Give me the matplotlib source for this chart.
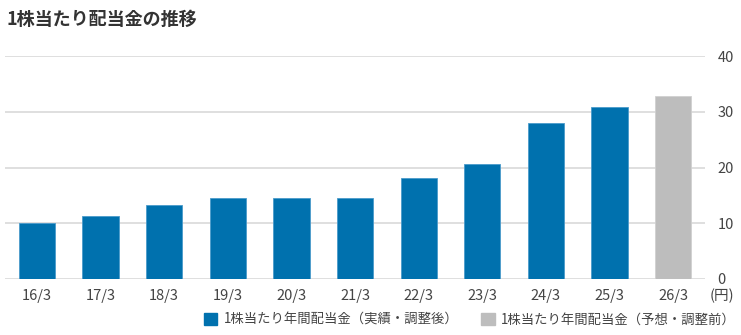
import matplotlib.pyplot as plt
from matplotlib.patches import Patch

plt.rcParams['font.family'] = ['Noto Sans CJK JP', 'DejaVu Sans']

# 決算期と1株当たり年間配当金（円）
periods = ['16/3', '17/3', '18/3', '19/3', '20/3', '21/3', '22/3', '23/3', '24/3', '25/3', '26/3']
dividends = [10.0, 11.3, 13.3, 14.6, 14.6, 14.6, 18.2, 20.6, 27.9, 30.9, 32.9]
is_forecast = [False] * 10 + [True]
y_ticks = [0, 10, 20, 30, 40]

blue = '#0071AE'
grey = '#BDBDBD'
text_col = '#444444'

fig = plt.figure(figsize=(7.41, 3.35), dpi=100)
ax = fig.add_axes([5 / 741, 1 - 279 / 335, 700 / 741, 223 / 335])

colors = [grey if f else blue for f in is_forecast]
edges = ['#D0D0D0' if f else '#4A9BCB' for f in is_forecast]
ax.bar(range(len(periods)), dividends, width=0.57, color=colors,
       edgecolor=edges, linewidth=0.6, zorder=3)

ax.set_xlim(-0.5, len(periods) - 0.5)
ax.set_ylim(0, 40)
ax.set_yticks(y_ticks)
ax.yaxis.tick_right()
ax.grid(axis='y', color='#D9D9D9', linewidth=1.2, zorder=0)
ax.set_xticks(range(len(periods)))
ax.set_xticklabels(periods)
ax.tick_params(axis='both', length=0, labelsize=10.5, colors=text_col)
ax.tick_params(axis='x', pad=7)
ax.tick_params(axis='y', pad=9)
for s in ax.spines.values():
    s.set_visible(False)

fig.text(710 / 741, 1 - 296 / 335, '(円)', fontsize=10.5, color=text_col,
         va='center', ha='left')
fig.text(6 / 741, 1 - 19 / 335, '1株当たり配当金の推移', fontsize=13,
         fontweight='bold', color='#333333', va='center', ha='left')

handles = [Patch(facecolor=blue, edgecolor=blue),
           Patch(facecolor=grey, edgecolor=grey)]
labels = ['1株当たり年間配当金（実績・調整後）', '1株当たり年間配当金（予想・調整前）']
fig.legend(handles, labels, loc='center', bbox_to_anchor=(470 / 741, 1 - 320 / 335),
           ncol=2, frameon=False, fontsize=9.6, labelcolor=text_col,
           handlelength=1.0, handleheight=1.0, handletextpad=0.5, columnspacing=1.7)

fig.savefig('out.png', dpi=100)
